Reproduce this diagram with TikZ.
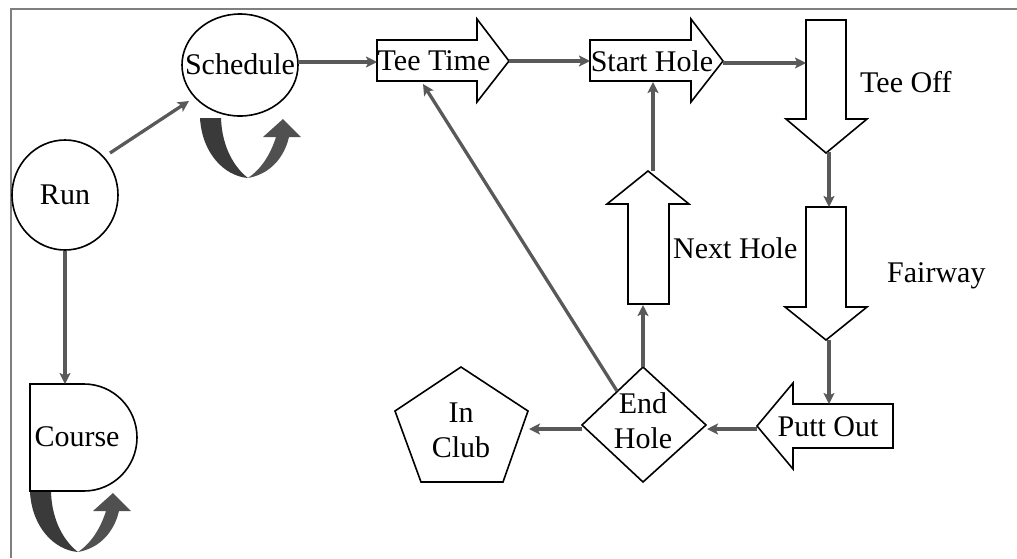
\documentclass[tikz,border=0pt]{standalone}
\usepackage{fontspec}
\setmainfont{Liberation Serif}
\usetikzlibrary{arrows.meta,shapes.geometric}
\definecolor{cgray}{HTML}{595959}
\definecolor{fgray}{HTML}{7F7F7F}
\definecolor{loopdark}{HTML}{3A3A3A}
\definecolor{looplight}{HTML}{505050}
\begin{document}
\begin{tikzpicture}[x=1pt,y=-1pt,
  font=\fontsize{30}{35}\selectfont,
  shp/.style={draw=black,line width=1.6pt,line join=miter,fill=white},
  conn/.style={draw=cgray,line width=3.3pt,-{Stealth[length=11pt,width=11pt,inset=2.5pt]}},
  lbl/.style={inner sep=0pt,align=center},
  loopback/.pic={
    \fill[loopdark] (0,0) -- (21,0) .. controls (22,30) and (35,50) .. (48,60)
      .. controls (24,58) and (2,35) .. (0,0) -- cycle;
    \fill[looplight] (48,60) .. controls (70,56) and (84,40) .. (89,19)
      -- (101,19) -- (83,1) -- (63,19) -- (76,19)
      .. controls (70,38) and (60,52) .. (48,60) -- cycle;
  }]
\useasboundingbox (0,0) rectangle (1017,558);
\draw[draw=fgray,line width=1.6pt] (11,558) -- (11,9) -- (1017,9);

% Run
\node[ellipse,shp,minimum width=106pt,minimum height=110pt,inner sep=0pt] (run) at (65,195) {Run};

% Schedule
\draw[shp] (240,65) ellipse [x radius=58, y radius=51];
\node[lbl] (sched) at (240,64) {Schedule};
\pic at (200,118) {loopback};

% Course
\draw[shp] (30,384) -- (84,384) arc[start angle=-90,end angle=90,x radius=53,y radius=53.5] -- (30,491) -- cycle;
\node[lbl] (course) at (77,437) {Course};
\pic at (30,492) {loopback};

% Tee Time
\draw[shp] (377,40) -- (477,40) -- (477,19) -- (509,61) -- (477,102) -- (477,81) -- (377,81) -- cycle;
\node[lbl] (teetime) at (434,61) {Tee Time};

% Start Hole
\draw[shp] (590,40) -- (691,40) -- (691,19) -- (723,61) -- (691,102) -- (691,81) -- (590,81) -- cycle;
\node[lbl] (starthole) at (652,61) {Start Hole};

% Tee Off
\draw[shp] (806,20) -- (846,20) -- (846,119) -- (867,119) -- (826,153) -- (786,119) -- (806,119) -- cycle;
\node[lbl,anchor=west] (teeoff) at (860,82) {Tee Off};

% Fairway
\draw[shp] (806,207) -- (846,207) -- (846,307) -- (867,307) -- (826,340) -- (785,307) -- (806,307) -- cycle;
\node[lbl,anchor=west] (fairway) at (887,276) {Fairway};

% Putt Out
\draw[shp] (893,404) -- (793,404) -- (793,383) -- (757,426) -- (793,469) -- (793,448) -- (893,448) -- cycle;
\node[lbl] (puttout) at (828,427) {Putt Out};

% End Hole
\draw[shp] (643,367) -- (706,425) -- (643,482) -- (582,425) -- cycle;
\node[lbl] (endhole) at (643,421) {End\\Hole};

% In Club
\draw[shp] (461,367) -- (528,411) -- (503,482) -- (421,482) -- (395,411) -- cycle;
\node[lbl] (inclub) at (461,430) {In\\Club};

% Next Hole
\draw[shp] (628,304) -- (628,204) -- (607,204) -- (648,171) -- (689,204) -- (669,204) -- (669,304) -- cycle;
\node[lbl,anchor=west] (nexthole) at (673,248) {Next Hole};

% connection points
\coordinate (runout) at (110,153);
\coordinate (schedin) at (189,101);
\coordinate (schedout) at (298,62);
\coordinate (teetimein) at (377,62);
\coordinate (teetimeout) at (509,61);
\coordinate (startin) at (590,61);
\coordinate (startout) at (723,63);
\coordinate (teeoffin) at (806,63);
\coordinate (teeofftip) at (829,152);
\coordinate (fairwayin) at (829,207);
\coordinate (fairwaytip) at (829,340);
\coordinate (puttin) at (829,404);
\coordinate (putttip) at (757,429);
\coordinate (endright) at (707,429);
\coordinate (endleft) at (582,429);
\coordinate (clubin) at (529,429);
\coordinate (endtop) at (643,367);
\coordinate (endnw) at (617,391);
\coordinate (nextin) at (643,305);
\coordinate (nexttip) at (653,171);
\coordinate (startbot) at (653,82);
\coordinate (teetimebot) at (423,84);
\coordinate (coursein) at (65,384);

\draw[conn] (runout) -- (schedin);
\draw[conn] (run.south) -- (coursein);
\draw[conn] (schedout) -- (teetimein);
\draw[conn] (teetimeout) -- (startin);
\draw[conn] (startout) -- (teeoffin);
\draw[conn] (teeofftip) -- (fairwayin);
\draw[conn] (fairwaytip) -- (puttin);
\draw[conn] (putttip) -- (endright);
\draw[conn] (endleft) -- (clubin);
\draw[conn] (endtop) -- (nextin);
\draw[conn] (nexttip) -- (startbot);
\draw[conn] (endnw) -- (teetimebot);
\end{tikzpicture}
\end{document}
